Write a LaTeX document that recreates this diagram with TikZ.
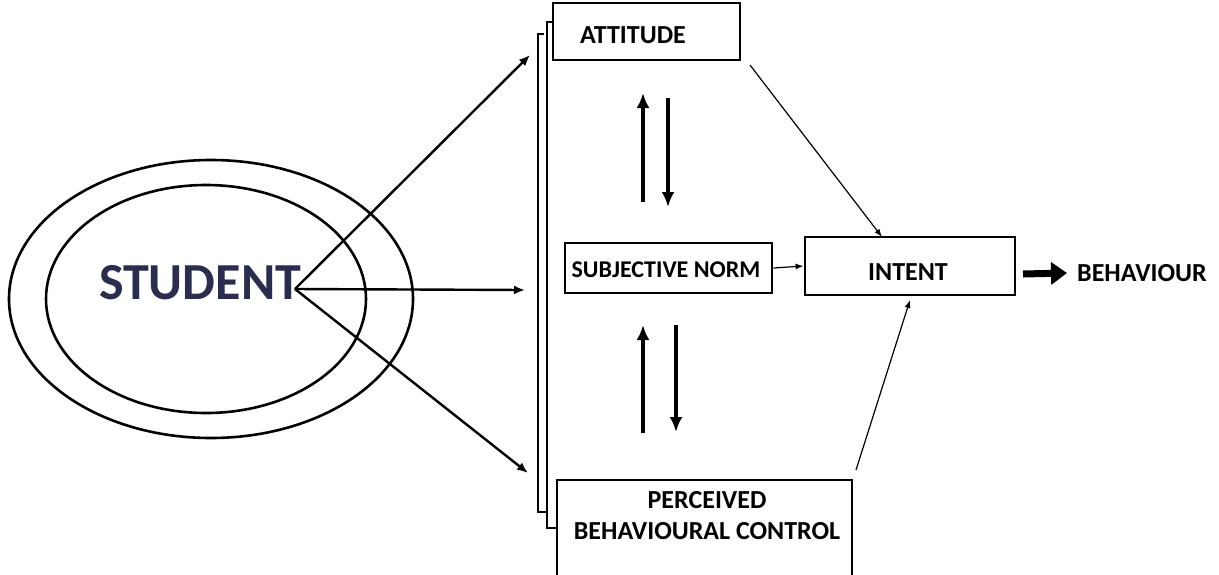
\documentclass[tikz,border=0pt]{standalone}
\usepackage{fontspec}
\setmainfont{Carlito}
\usetikzlibrary{shapes.geometric,arrows.meta}
\definecolor{navy}{HTML}{2B2D4F}
\tikzset{
  box/.style={draw,line width=2.8pt,minimum width=#1,inner sep=0pt},
  lbl/.style={font=\bfseries\fontsize{26}{31}\selectfont,inner sep=0pt},
  ring/.style={draw,ellipse,line width=2.6pt,inner sep=0pt},
  spoke/.style={line width=2.4pt,-{Latex[length=11pt,width=9pt]}},
  thin/.style={line width=1.2pt,-{Latex[length=8pt,width=6pt]}},
  vert/.style={line width=3.8pt,-{Latex[length=15pt,width=13pt]}},
  brk/.style={line width=2.6pt}
}
\begin{document}
\begin{tikzpicture}[x=1pt,y=-1pt]
\useasboundingbox (0,0) rectangle (1219,574);
% ellipses
\node[ring,minimum width=404pt,minimum height=278pt] (outer) at (211,299) {};
\node[ring,minimum width=320pt,minimum height=228pt] (inner) at (206,299) {};
\node[font=\bfseries\fontsize{52}{60}\selectfont,text=navy,inner sep=0pt] (student) at (200,283) {STUDENT};
\coordinate (src) at (295,289);
\coordinate (tA) at (530,55);
\coordinate (tS) at (525,290);
\coordinate (tP) at (528,473);
\draw[spoke] (src) -- (tA);
\draw[spoke] (src) -- (tS);
\draw[spoke] (src) -- (tP);
% brackets
\draw[brk] (544,34) -- (538,34) -- (538,512) -- (546,512);
\draw[brk] (554,22) -- (547,22) -- (547,528) -- (558,528);
% boxes
\node[box=187pt,minimum height=57pt] (att) at (646.5,31.5) {};
\node[lbl] (atttext) at (633,35) {ATTITUDE};
\node[box=207pt,minimum height=50pt] (sn) at (668.5,268) {};
\node[lbl,font=\bfseries\fontsize{24}{29}\selectfont] (sntext) at (666,270) {SUBJECTIVE NORM};
\node[box=210pt,minimum height=58pt] (int) at (910,266) {};
\node[lbl] (inttext) at (908,272) {INTENT};
\node[box=295pt,minimum height=100pt] (pbc) at (704.5,530) {};
\node[lbl,align=center] (pbctext) at (707,516) {PERCEIVED\\[0pt]BEHAVIOURAL CONTROL};
\node[lbl,anchor=west] (beh) at (1077,273) {BEHAVIOUR};
% connectors
\draw[thin] (sn.east) -- (int.west);
\draw[thin] (750,65) -- (882,237);
\draw[thin] (856,470) -- (910,300);
\draw[line width=7pt,-{Triangle[length=16pt,width=22pt]}] (1023,274) -- ([xshift=-10pt]beh.west);
% vertical double arrows
\draw[vert] (643,202) -- (643,93);
\draw[vert] (668,98) -- (668,207);
\draw[vert] (643,433) -- (643,325);
\draw[vert] (676,325) -- (676,432);
\end{tikzpicture}
\end{document}
